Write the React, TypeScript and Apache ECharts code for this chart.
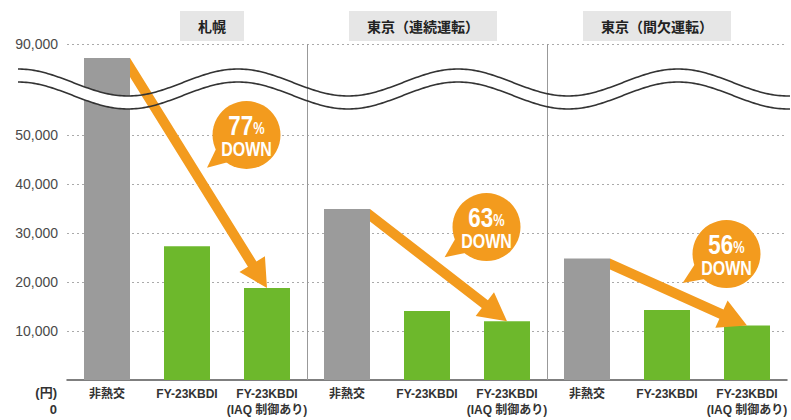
import React, { useEffect, useRef } from 'react';
import * as echarts from 'echarts';

// ---------------- data ----------------
const groups = ['札幌', '東京（連続運転）', '東京（間欠運転）'];
const products = ['非熱交', 'FY-23KBDI', 'FY-23KBDI\n(IAQ 制御あり)'];
const categories = [
  products[0], products[1], products[2],
  products[0], products[1], products[2],
  products[0], products[1], products[2],
];
// annual running cost (円)
const annualCost = [83800, 27300, 18800, 34900, 14100, 12000, 24800, 14300, 11100];
const reductionPct = ['77', '63', '56'];
const lowerTicks = [0, 10000, 20000, 30000, 40000, 50000];
const upperTicks = [50000, 90000];

// ---------------- styles ----------------
const GRAY = '#9B9B9B';
const GREEN = '#6DB82C';
const ORANGE = '#F39B1E';
const BAR_W = 46;
const LATIN = "'Liberation Sans', Arial, 'Noto Sans CJK JP', sans-serif";
const fmt = (v: number) => v.toLocaleString('en-US');

const dotted = { type: [2, 3], color: '#aaaaaa', width: 1 };
const yLabel = { fontSize: 14, color: '#4a4a4a', fontFamily: LATIN, margin: 9 };
const titleShift = [
  { before: 50, after: 0 },
  { before: 0, after: 8 },
  { before: 0, after: 20 },
];

export default function App() {
  const ref = useRef<HTMLDivElement>(null);

  useEffect(() => {
    const chart = echarts.init(ref.current as HTMLDivElement, null, { renderer: 'svg' });
    const barColor = (p: any) => (p.dataIndex % 3 === 0 ? GRAY : GREEN);
    const rich: any = {
      t: {
        backgroundColor: '#E6E6E6',
        padding: [8, 18, 8, 18],
        fontSize: 14,
        lineHeight: 14,
        fontWeight: 'bold',
        color: '#222',
        fontFamily: "'Noto Sans CJK JP', sans-serif",
      },
    };
    titleShift.forEach((s, i) => {
      rich['a' + i] = { width: s.before, fontSize: 1 };
      rich['b' + i] = { width: s.after, fontSize: 1 };
    });
    const divider = { show: true, showMinLine: false, showMaxLine: false, lineStyle: { color: '#999', width: 1 } };

    const option: any = {
      animation: false,
      backgroundColor: '#ffffff',
      textStyle: { fontFamily: LATIN },
      grid: [
        { left: 67, right: 4, top: 135, bottom: 40 },
        { left: 67, right: 4, top: 44, height: 91 },
      ],
      xAxis: [
        {
          gridIndex: 0,
          type: 'category',
          data: categories,
          position: 'bottom',
          axisLine: { lineStyle: { color: '#555', width: 1.5 } },
          axisTick: { show: false },
          axisLabel: {
            interval: 0,
            margin: 6,
            fontSize: 12,
            lineHeight: 16,
            fontWeight: 'bold',
            color: '#333',
            fontFamily: LATIN,
          },
          splitLine: { show: false },
        },
        {
          gridIndex: 0,
          type: 'category',
          data: groups,
          position: 'top',
          z: 55,
          axisLine: { show: false },
          axisTick: { show: false },
          axisLabel: { show: false },
          splitLine: divider,
        },
        {
          gridIndex: 1,
          type: 'category',
          data: categories,
          position: 'bottom',
          show: false,
        },
        {
          gridIndex: 1,
          type: 'category',
          data: groups,
          position: 'top',
          z: 55,
          axisLine: { show: false },
          axisTick: { show: false },
          axisLabel: {
            interval: 0,
            margin: 11,
            formatter: (v: string, i: number) => `{a${i}| }{t|${v}}{b${i}| }`,
            rich,
          },
          splitLine: divider,
        },
      ],
      yAxis: [
        {
          gridIndex: 0,
          type: 'value',
          min: lowerTicks[0],
          max: lowerTicks[lowerTicks.length - 1],
          interval: lowerTicks[1] - lowerTicks[0],
          axisLine: { show: false },
          axisTick: { show: false },
          axisLabel: { ...yLabel, formatter: (v: number) => (v === 0 ? '' : fmt(v)) },
          splitLine: { show: true, showMinLine: false, lineStyle: dotted },
          name: '(円)\n' + fmt(lowerTicks[0]),
          nameLocation: 'start',
          nameGap: 4,
          nameTextStyle: {
            align: 'right',
            verticalAlign: 'top',
            fontSize: 13,
            lineHeight: 17,
            fontWeight: 'bold',
            color: '#333',
            padding: [0, 10, 0, 0],
            fontFamily: LATIN,
          },
        },
        {
          gridIndex: 1,
          type: 'value',
          min: upperTicks[0],
          max: upperTicks[1],
          interval: 10000,
          axisLine: { show: false },
          axisTick: { show: false },
          axisLabel: { ...yLabel, formatter: (v: number) => (v === upperTicks[1] ? fmt(v) : '') },
          splitLine: { show: false },
        },
      ],
      series: [
        {
          type: 'bar',
          xAxisIndex: 0,
          yAxisIndex: 0,
          data: annualCost,
          barWidth: BAR_W,
          clip: true,
          itemStyle: { color: barColor },
        },
        {
          type: 'bar',
          xAxisIndex: 2,
          yAxisIndex: 1,
          data: annualCost,
          barWidth: BAR_W,
          clip: true,
          itemStyle: { color: barColor },
          markLine: {
            silent: true,
            symbol: ['none', 'none'],
            label: { show: false },
            lineStyle: dotted,
            data: [{ yAxis: upperTicks[1] }],
          },
        },
      ],
    };
    chart.setOption(option);

    // ---------- overlay: axis break wave, arrows and callouts ----------
    const breakLimit = lowerTicks[lowerTicks.length - 1];
    const place = (i: number, v: number) =>
      chart.convertToPixel({ seriesIndex: v > breakLimit ? 1 : 0 }, [i, v]) as number[];

    const elements: any[] = [];

    // wave (axis break)
    const x0 = 18, x1 = 791, yMid = 82.5, amp = 13.5, period = 220, gap = 13;
    const topPts: number[][] = [];
    const botPts: number[][] = [];
    for (let x = x0; x <= x1; x += 2) {
      const y = yMid - amp * Math.cos((2 * Math.PI * (x - x0)) / period);
      topPts.push([x, y]);
      botPts.push([x, y + gap]);
    }
    elements.push({
      type: 'polygon',
      z: 50,
      shape: { points: [...topPts, ...botPts.slice().reverse()] },
      style: { fill: '#ffffff', stroke: null },
    });
    elements.push({ type: 'polyline', z: 70, shape: { points: topPts }, style: { stroke: '#333', lineWidth: 1.6, fill: null } });
    elements.push({ type: 'polyline', z: 70, shape: { points: botPts }, style: { stroke: '#333', lineWidth: 1.6, fill: null } });

    const w = 10, headL = 28, headW = 30, r = 34;
    groups.forEach((_, g) => {
      const gi = g * 3;
      const ti = g * 3 + 2;
      const gTop = place(gi, annualCost[gi]);
      const S = [gTop[0] + BAR_W / 2, gTop[1]];
      const T = place(ti, annualCost[ti]);
      let dx = T[0] - S[0], dy = T[1] - S[1];
      let len = Math.hypot(dx, dy);
      let ux = dx / len, uy = dy / len;
      let h = w / ux;
      dx = T[0] - S[0]; dy = T[1] - (S[1] + h / 2);
      len = Math.hypot(dx, dy);
      ux = dx / len; uy = dy / len;
      h = w / ux;
      const nx = uy, ny = -ux; // up-right normal
      const B = [T[0] - ux * headL, T[1] - uy * headL];
      elements.push({
        type: 'polygon',
        z: 60,
        shape: {
          points: [
            S,
            [B[0] + nx * w / 2, B[1] + ny * w / 2],
            [B[0] + nx * headW / 2, B[1] + ny * headW / 2],
            T,
            [B[0] - nx * headW / 2, B[1] - ny * headW / 2],
            [B[0] - nx * w / 2, B[1] - ny * w / 2],
            [S[0], S[1] + h],
          ],
        },
        style: { fill: ORANGE, stroke: null },
      });

      // callout bubble
      const M = [(S[0] + T[0]) / 2, (S[1] + T[1]) / 2];
      const C = [M[0] + 48, M[1] - 38];
      const tip = [M[0] + nx * 10, M[1] + ny * 10];
      const a = Math.atan2(tip[1] - C[1], tip[0] - C[0]);
      const b1 = [C[0] + r * 0.85 * Math.cos(a - 0.4), C[1] + r * 0.85 * Math.sin(a - 0.4)];
      const b2 = [C[0] + r * 0.85 * Math.cos(a + 0.4), C[1] + r * 0.85 * Math.sin(a + 0.4)];
      elements.push({ type: 'polygon', z: 80, shape: { points: [b1, tip, b2] }, style: { fill: ORANGE } });
      elements.push({ type: 'circle', z: 80, shape: { cx: C[0], cy: C[1], r }, style: { fill: ORANGE } });
      elements.push({
        type: 'text',
        z: 81,
        x: C[0],
        y: C[1] - 10,
        scaleX: 0.8,
        style: {
          text: `{n|${reductionPct[g]}}{p|%}`,
          align: 'center',
          verticalAlign: 'middle',
          fill: '#fff',
          rich: {
            n: { fontSize: 28, lineHeight: 22, fontWeight: 'bold', fontFamily: LATIN, fill: '#fff' },
            p: { fontSize: 16, lineHeight: 16, fontWeight: 'bold', fontFamily: LATIN, fill: '#fff', verticalAlign: 'bottom' },
          },
        },
      });
      elements.push({
        type: 'text',
        z: 81,
        x: C[0],
        y: C[1] + 14,
        scaleX: 0.8,
        style: {
          text: 'DOWN',
          align: 'center',
          verticalAlign: 'middle',
          fill: '#fff',
          fontSize: 20,
          lineHeight: 17,
          fontWeight: 'bold',
          fontFamily: LATIN,
        },
      });
    });

    chart.setOption({ graphic: { elements } });

    return () => chart.dispose();
  }, []);

  return <div ref={ref} style={{ position: 'fixed', left: 0, top: 0, width: 791, height: 420 }} />;
}
